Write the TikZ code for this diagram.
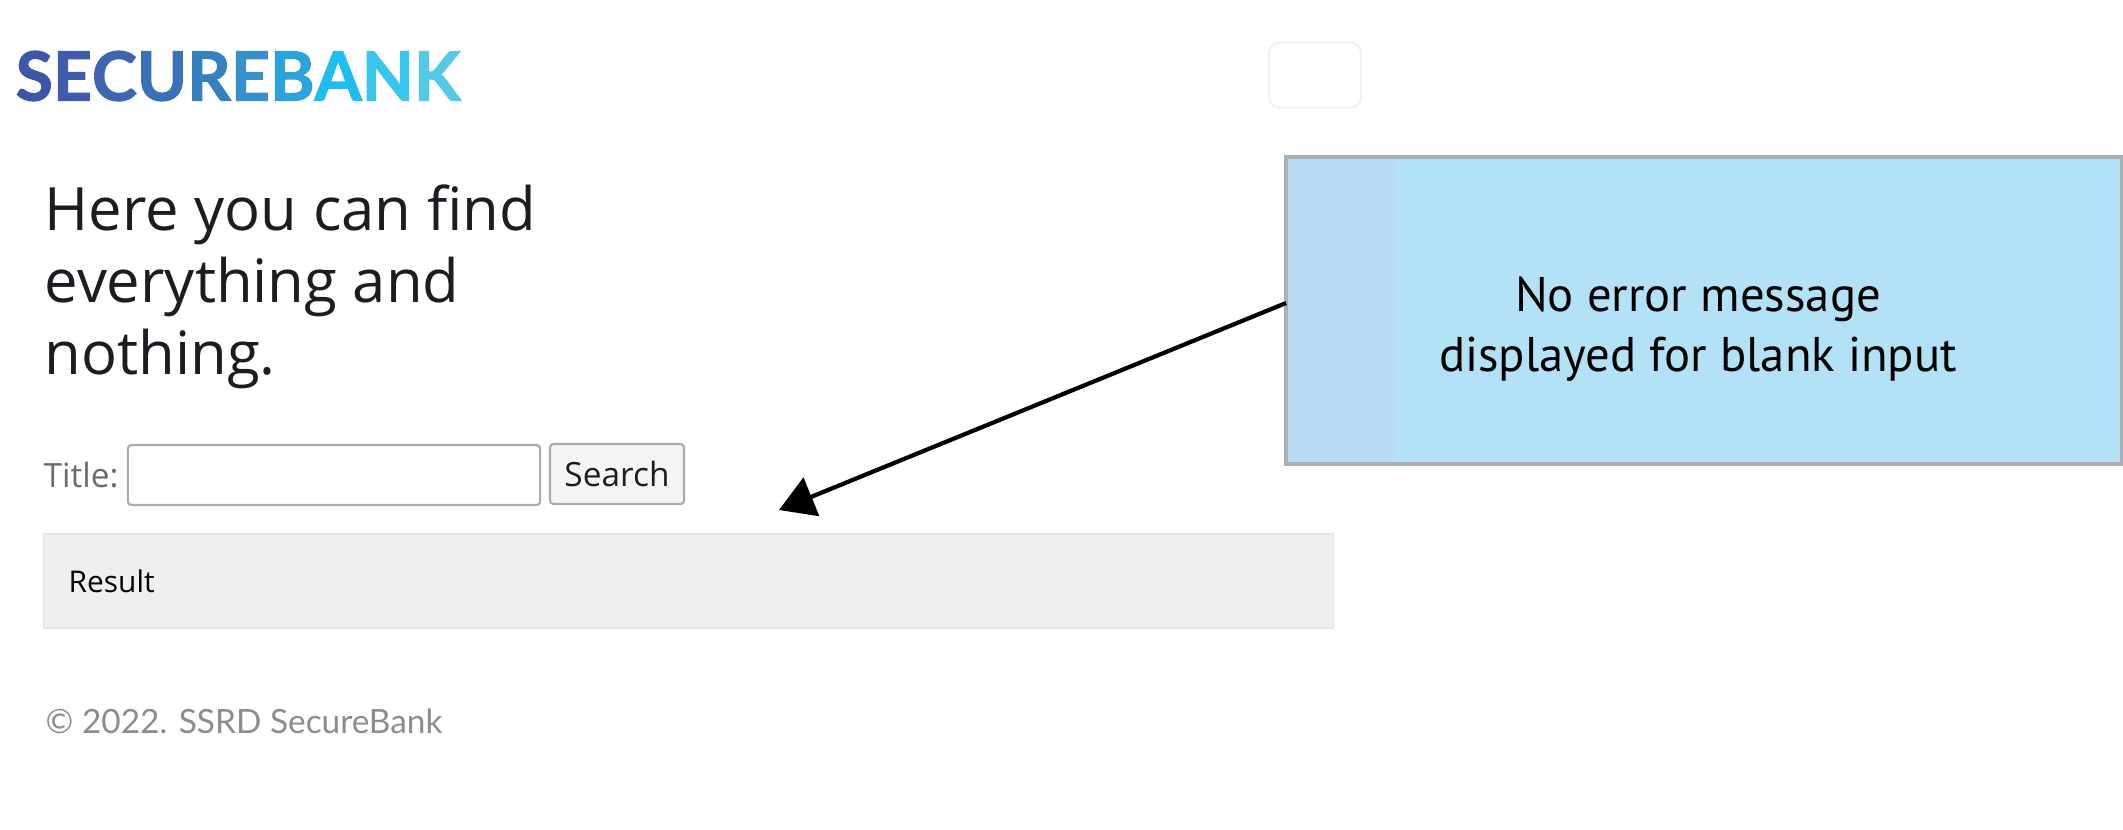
\documentclass[tikz,border=0pt]{standalone}
\usepackage{fontspec}
\setmainfont{Open Sans}
\newfontfamily\logofont[BoldFeatures={FakeBold=1.6}]{Lato}
\newfontfamily\notefont{PT Sans}
\usetikzlibrary{positioning,arrows.meta}
\definecolor{barfill}{HTML}{EEEFF1}
\definecolor{barline}{HTML}{E3E5E6}
\definecolor{noteband}{HTML}{BBDBF4}
\definecolor{notefill}{HTML}{B3E2F6}
\definecolor{noteline}{HTML}{ABAFB3}
\definecolor{fieldline}{HTML}{ABABAB}
\definecolor{headtext}{HTML}{1A1D21}
\definecolor{labeltext}{HTML}{6B6B6B}
\definecolor{foottext}{HTML}{8C8C8C}

\begin{document}
\begin{tikzpicture}[x=0.01cm,y=-0.01cm,
    t/.style={anchor=west,inner sep=0pt},%
    field/.style={draw=fieldline,line width=0.6pt,rounded corners=1pt,inner sep=0pt,minimum height=0.6cm},%
    f/.style={-{Triangle[length=0.35cm,width=0.41cm]},line width=1.2pt}]
    \useasboundingbox (0,0) rectangle (2123,830);
    % logo
    \node[t,font=\logofont\bfseries\fontsize{19.3}{20}\selectfont] (logo) at (15,76) {%
      \textcolor[HTML]{3F55A8}{S}\textcolor[HTML]{3F5CAE}{E}\textcolor[HTML]{3D65B2}{C}\textcolor[HTML]{3A70B7}{U}\textcolor[HTML]{3680C0}{R}\textcolor[HTML]{3590CC}{E}\textcolor[HTML]{2CA3DC}{B}\textcolor[HTML]{22BDF0}{A}\textcolor[HTML]{38C6EE}{N}\textcolor[HTML]{55C9E6}{K}};
    \node[draw=black!6,line width=0.6pt,rounded corners=3pt,minimum width=0.92cm,minimum height=0.65cm] (menu) at (1315,75) {};

    % heading
    \node[t,font=\fontsize{17}{20.5}\selectfont,text=headtext,align=left] (head) at (44,287) {Here you can find\\everything and\\nothing.};

    % search form
    \node[t,font=\fontsize{9.5}{10}\selectfont,text=labeltext] (title) at (43,475) {Title:};
    \node[field,minimum width=4.12cm] (input) at (334,475) {};
    \node[field,fill=black!4,minimum width=1.34cm,font=\fontsize{9.5}{10}\selectfont,text=headtext] (search) at (617,474) {Search};

    % result bar
    \node[draw=barline,fill=barfill,line width=0.5pt,minimum width=12.89cm,minimum height=0.94cm,inner sep=0pt] (bar) at (688.5,581) {};
    \node[t,font=\fontsize{8.5}{9}\selectfont,text=black] (result) at (68,581) {Result};
    \node[t,font=\logofont\fontsize{9.5}{10}\selectfont,text=foottext] (foot) at (45,721) {© 2022. SSRD SecureBank};

    % note
    \node[fill=notefill,minimum width=8.34cm,minimum height=3.05cm,inner sep=0pt] (note) at (1704,310.5) {};
    \fill[noteband] (note.north west) rectangle (1396,463);
    \draw[noteline,line width=1pt] (note.north west) rectangle (note.south east);
    \node[font=\notefont\fontsize{13.85}{17}\selectfont,align=center] (notetext) at (1698,329) {No error message\\displayed for blank input};
    \coordinate (tip) at (779,510);
    \draw[f] ([yshift=0.075cm]note.west) -- (tip);
\end{tikzpicture}
\end{document}
